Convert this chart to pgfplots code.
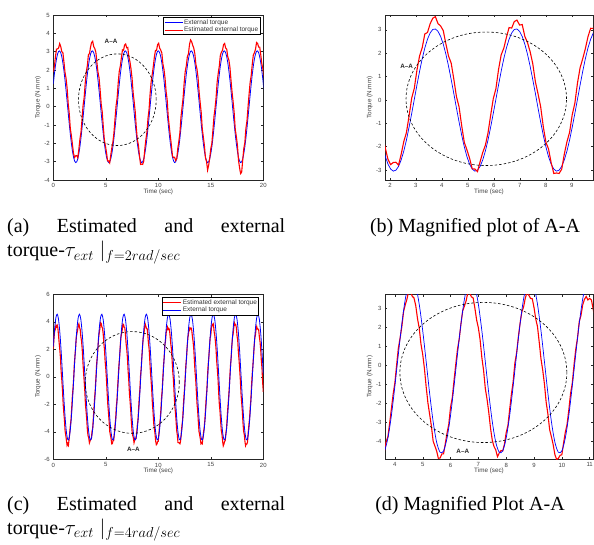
\documentclass[border=0pt]{standalone}
\usepackage{fontspec}
\setmainfont{Liberation Serif}
\newfontfamily\hv{Liberation Sans}
\usepackage{pgfplots}
\pgfplotsset{compat=1.18}
\usepackage{pgfplotstable}

\pgfplotstableread{
t b r
0.000 1.23 1.89
0.101 1.77 2.19
0.203 2.23 2.72
0.304 2.60 3.14
0.405 2.87 3.15
0.507 3.02 3.20
0.608 3.04 3.44
0.709 2.94 3.28
0.811 2.72 3.00
0.912 2.39 2.95
1.013 1.96 2.44
1.115 1.45 1.87
1.216 0.88 1.54
1.317 0.28 1.00
1.419 -0.34 0.17
1.520 -0.94 -0.38
1.621 -1.51 -1.20
1.723 -2.01 -1.59
1.824 -2.43 -2.07
1.925 -2.75 -2.55
2.027 -2.96 -2.77
2.128 -3.05 -2.68
2.230 -3.01 -2.67
2.331 -2.85 -2.79
2.432 -2.57 -2.33
2.534 -2.19 -1.78
2.635 -1.72 -1.40
2.736 -1.17 -0.69
2.838 -0.58 0.08
2.939 0.03 0.50
3.040 0.64 1.28
3.142 1.23 1.89
3.243 1.77 2.24
3.344 2.23 2.83
3.446 2.60 2.89
3.547 2.87 3.26
3.648 3.02 3.50
3.750 3.04 3.57
3.851 2.94 3.27
3.952 2.72 3.17
4.054 2.39 2.97
4.155 1.96 2.40
4.256 1.45 1.88
4.358 0.88 1.58
4.459 0.28 0.90
4.560 -0.34 0.15
4.662 -0.94 -0.30
4.763 -1.51 -1.10
4.864 -2.01 -1.82
4.966 -2.43 -2.14
5.067 -2.75 -2.50
5.168 -2.96 -2.95
5.270 -3.05 -2.96
5.371 -3.01 -3.07
5.472 -2.85 -2.65
5.574 -2.57 -2.25
5.675 -2.19 -1.94
5.776 -1.72 -1.42
5.878 -1.17 -0.66
5.979 -0.58 0.05
6.081 0.03 0.48
6.182 0.64 1.30
6.283 1.23 1.93
6.385 1.77 2.22
6.486 2.23 2.68
6.587 2.60 3.10
6.689 2.87 3.08
6.790 3.02 3.36
6.891 3.04 3.42
6.993 2.94 3.21
7.094 2.72 3.23
7.195 2.39 2.72
7.297 1.96 2.46
7.398 1.45 2.07
7.499 0.88 1.56
7.601 0.28 0.78
7.702 -0.34 0.27
7.803 -0.94 -0.28
7.905 -1.51 -1.14
8.006 -2.01 -1.81
8.107 -2.43 -2.10
8.209 -2.75 -2.69
8.310 -2.96 -3.15
8.411 -3.05 -3.13
8.513 -3.01 -3.15
8.614 -2.85 -2.97
8.715 -2.57 -2.32
8.817 -2.19 -1.79
8.918 -1.72 -1.39
9.019 -1.17 -0.64
9.121 -0.58 -0.14
9.222 0.03 0.72
9.323 0.64 1.38
9.425 1.23 1.77
9.526 1.77 2.20
9.627 2.23 2.71
9.729 2.60 3.07
9.830 2.87 3.06
9.932 3.02 3.38
10.033 3.04 3.46
10.134 2.94 3.19
10.236 2.72 3.08
10.337 2.39 2.93
10.438 1.96 2.33
10.540 1.45 2.04
10.641 0.88 1.56
10.742 0.28 0.83
10.844 -0.34 0.38
10.945 -0.94 -0.53
11.046 -1.51 -1.08
11.148 -2.01 -1.62
11.249 -2.43 -2.12
11.350 -2.75 -2.69
11.452 -2.96 -2.78
11.553 -3.05 -2.76
11.654 -3.01 -2.94
11.756 -2.85 -2.84
11.857 -2.57 -2.28
11.958 -2.19 -1.89
12.060 -1.72 -1.41
12.161 -1.17 -0.56
12.262 -0.58 -0.04
12.364 0.03 0.49
12.465 0.64 1.31
12.566 1.23 1.92
12.668 1.77 2.23
12.769 2.23 2.73
12.870 2.60 2.88
12.972 2.87 3.39
13.073 3.02 3.64
13.174 3.04 3.55
13.276 2.94 3.35
13.377 2.72 3.20
13.478 2.39 2.90
13.580 1.96 2.31
13.681 1.45 2.06
13.783 0.88 1.60
13.884 0.28 0.81
13.985 -0.34 0.23
14.087 -0.94 -0.32
14.188 -1.51 -1.21
14.289 -2.01 -1.65
14.391 -2.43 -2.12
14.492 -2.75 -2.79
14.593 -2.96 -2.99
14.695 -3.05 -3.46
14.796 -3.01 -3.20
14.897 -2.85 -2.80
14.999 -2.57 -2.30
15.100 -2.19 -2.01
15.201 -1.72 -1.29
15.303 -1.17 -0.54
15.404 -0.58 -0.08
15.505 0.03 0.50
15.607 0.64 1.35
15.708 1.23 1.82
15.809 1.77 2.21
15.911 2.23 2.81
16.012 2.60 2.98
16.113 2.87 3.07
16.215 3.02 3.39
16.316 3.04 3.45
16.417 2.94 3.20
16.519 2.72 3.13
16.620 2.39 2.71
16.721 1.96 2.55
16.823 1.45 2.14
16.924 0.88 1.44
17.025 0.28 0.79
17.127 -0.34 0.26
17.228 -0.94 -0.35
17.329 -1.51 -1.23
17.431 -2.01 -1.63
17.532 -2.43 -2.08
17.634 -2.75 -2.90
17.735 -2.96 -3.31
17.836 -3.05 -3.65
17.938 -3.01 -3.58
18.039 -2.85 -2.92
18.140 -2.57 -2.30
18.242 -2.19 -1.96
18.343 -1.72 -1.18
18.444 -1.17 -0.79
18.546 -0.58 -0.02
18.647 0.03 0.69
18.748 0.64 1.33
18.850 1.23 1.70
18.951 1.77 2.33
19.052 2.23 2.83
19.154 2.60 2.94
19.255 2.87 3.12
19.356 3.02 3.50
19.458 3.04 3.45
19.559 2.94 3.25
19.660 2.72 3.25
19.762 2.39 2.81
19.863 1.96 2.32
19.964 1.45 2.07
20.066 0.88 1.59
}\dataA

\pgfplotstableread{
t b
0.000 2.19
0.125 3.49
0.250 4.31
0.375 4.55
0.500 4.16
0.625 3.21
0.750 1.83
0.875 0.19
1.000 -1.48
1.125 -2.95
1.250 -4.03
1.375 -4.56
1.500 -4.49
1.625 -3.81
1.750 -2.63
1.875 -1.09
2.000 0.59
2.125 2.19
2.250 3.49
2.375 4.31
2.500 4.55
2.625 4.16
2.750 3.21
2.875 1.83
3.000 0.19
3.125 -1.48
3.250 -2.95
3.375 -4.03
3.500 -4.56
3.625 -4.49
3.750 -3.81
3.875 -2.63
4.000 -1.09
4.125 0.59
4.250 2.19
4.375 3.49
4.500 4.31
4.625 4.55
4.750 4.16
4.875 3.21
5.000 1.83
5.125 0.19
5.250 -1.48
5.375 -2.95
5.500 -4.03
5.625 -4.56
5.750 -4.49
5.875 -3.81
6.000 -2.63
6.125 -1.09
6.250 0.59
6.375 2.19
6.500 3.49
6.625 4.31
6.750 4.55
6.875 4.16
7.000 3.21
7.125 1.83
7.250 0.19
7.375 -1.48
7.500 -2.95
7.625 -4.03
7.750 -4.56
7.875 -4.49
8.000 -3.81
8.125 -2.63
8.250 -1.09
8.375 0.59
8.500 2.19
8.625 3.49
8.750 4.31
8.875 4.55
9.000 4.16
9.125 3.21
9.250 1.83
9.375 0.19
9.500 -1.48
9.625 -2.95
9.750 -4.03
9.875 -4.56
10.000 -4.49
10.125 -3.81
10.250 -2.63
10.375 -1.09
10.500 0.59
10.625 2.19
10.750 3.49
10.875 4.31
11.000 4.55
11.125 4.16
11.250 3.21
11.375 1.83
11.500 0.19
11.625 -1.48
11.750 -2.95
11.875 -4.03
12.000 -4.56
12.125 -4.49
12.250 -3.81
12.375 -2.63
12.500 -1.09
12.625 0.59
12.750 2.19
12.875 3.49
13.000 4.31
13.125 4.55
13.250 4.16
13.375 3.21
13.500 1.83
13.625 0.19
13.750 -1.48
13.875 -2.95
14.000 -4.03
14.125 -4.56
14.250 -4.49
14.375 -3.81
14.500 -2.63
14.625 -1.09
14.750 0.59
14.875 2.19
15.000 3.49
15.125 4.31
15.250 4.55
15.375 4.16
15.500 3.21
15.625 1.83
15.750 0.19
15.875 -1.48
16.000 -2.95
16.125 -4.03
16.250 -4.56
16.375 -4.49
16.500 -3.81
16.625 -2.63
16.750 -1.09
16.875 0.59
17.000 2.19
17.125 3.49
17.250 4.31
17.375 4.55
17.500 4.16
17.625 3.21
17.750 1.83
17.875 0.19
18.000 -1.48
18.125 -2.95
18.250 -4.03
18.375 -4.56
18.500 -4.49
18.625 -3.81
18.750 -2.63
18.875 -1.09
19.000 0.59
19.125 2.19
19.250 3.49
19.375 4.31
19.500 4.55
19.625 4.16
19.750 3.21
19.875 1.83
20.000 0.19
}\dataCb

\pgfplotstableread{
t r
0.0000 2.02
0.0625 2.79
0.1250 3.29
0.1875 3.44
0.2500 3.74
0.3125 3.63
0.3750 3.74
0.4375 3.53
0.5000 2.99
0.5625 2.43
0.6250 1.94
0.6875 1.31
0.7500 0.34
0.8125 -0.25
0.8750 -0.97
0.9375 -1.95
1.0000 -2.61
1.0625 -3.16
1.1250 -3.96
1.1875 -4.25
1.2500 -4.61
1.3125 -4.98
1.3750 -4.86
1.4375 -4.98
1.5000 -4.59
1.5625 -4.07
1.6250 -3.55
1.6875 -3.13
1.7500 -2.31
1.8125 -1.45
1.8750 -0.86
1.9375 -0.14
2.0000 0.87
2.0625 1.51
2.1250 2.07
2.1875 2.85
2.2500 3.16
2.3125 3.37
2.3750 3.76
2.4375 3.86
2.5000 3.58
2.5625 3.44
2.6250 2.91
2.6875 2.62
2.7500 2.05
2.8125 1.20
2.8750 0.39
2.9375 -0.28
3.0000 -1.02
3.0625 -2.02
3.1250 -2.55
3.1875 -3.14
3.2500 -3.91
3.3125 -4.29
3.3750 -4.44
3.4375 -4.81
3.5000 -4.67
3.5625 -4.55
3.6250 -4.50
3.6875 -3.99
3.7500 -3.74
3.8125 -3.02
3.8750 -2.28
3.9375 -1.51
4.0000 -0.91
4.0625 0.02
4.1250 0.91
4.1875 1.44
4.2500 2.03
4.3125 2.83
4.3750 3.19
4.4375 3.50
4.5000 3.94
4.5625 3.88
4.6250 3.63
4.6875 3.54
4.7500 3.14
4.8125 2.46
4.8750 1.96
4.9375 1.12
5.0000 0.58
5.0625 -0.17
5.1250 -1.13
5.1875 -1.97
5.2500 -2.58
5.3125 -3.19
5.3750 -3.98
5.4375 -4.23
5.5000 -4.49
5.5625 -4.88
5.6250 -4.86
5.6875 -4.65
5.7500 -4.64
5.8125 -4.10
5.8750 -3.55
5.9375 -3.08
6.0000 -2.20
6.0625 -1.70
6.1250 -0.80
6.1875 0.05
6.2500 0.85
6.3125 1.39
6.3750 2.19
6.4375 2.87
6.5000 3.12
6.5625 3.41
6.6250 3.84
6.6875 3.81
6.7500 3.60
6.8125 3.55
6.8750 3.01
6.9375 2.39
7.0000 1.98
7.0625 1.35
7.1250 0.42
7.1875 -0.26
7.2500 -1.21
7.3125 -1.78
7.3750 -2.47
7.4375 -3.30
7.5000 -3.93
7.5625 -4.26
7.6250 -4.44
7.6875 -4.79
7.7500 -4.60
7.8125 -4.47
7.8750 -4.49
7.9375 -4.14
8.0000 -3.53
8.0625 -3.15
8.1250 -2.31
8.1875 -1.51
8.2500 -0.86
8.3125 0.13
8.3750 0.66
8.4375 1.50
8.5000 2.22
8.5625 2.81
8.6250 3.07
8.6875 3.54
8.7500 3.84
8.8125 3.69
8.8750 3.52
8.9375 3.50
9.0000 3.04
9.0625 2.44
9.1250 2.04
9.1875 1.22
9.2500 0.35
9.3125 -0.24
9.3750 -0.98
9.4375 -1.94
9.5000 -2.56
9.5625 -3.38
9.6250 -3.74
9.6875 -4.15
9.7500 -4.68
9.8125 -4.94
9.8750 -4.88
9.9375 -4.72
10.0000 -4.69
10.0625 -4.08
10.1250 -3.51
10.1875 -3.10
10.2500 -2.35
10.3125 -1.49
10.3750 -0.93
10.4375 0.02
10.5000 0.85
10.5625 1.44
10.6250 2.30
10.6875 2.62
10.7500 3.18
10.8125 3.47
10.8750 3.62
10.9375 3.44
11.0000 3.52
11.0625 3.44
11.1250 2.97
11.1875 2.40
11.2500 2.02
11.3125 1.25
11.3750 0.40
11.4375 -0.18
11.5000 -1.11
11.5625 -2.01
11.6250 -2.54
11.6875 -3.15
11.7500 -3.90
11.8125 -4.24
11.8750 -4.78
11.9375 -4.79
12.0000 -4.82
12.0625 -4.87
12.1250 -4.66
12.1875 -4.11
12.2500 -3.56
12.3125 -3.17
12.3750 -2.29
12.4375 -1.47
12.5000 -0.88
12.5625 -0.02
12.6250 0.87
12.6875 1.37
12.7500 2.19
12.8125 2.81
12.8750 3.12
12.9375 3.55
13.0000 3.43
13.0625 3.55
13.1250 3.55
13.1875 3.38
13.2500 2.92
13.3125 2.56
13.3750 2.06
13.4375 1.18
13.5000 0.36
13.5625 -0.20
13.6250 -1.08
13.6875 -1.96
13.7500 -2.48
13.8125 -3.28
13.8750 -3.97
13.9375 -4.22
14.0000 -4.50
14.0625 -4.87
14.1250 -4.81
14.1875 -4.87
14.2500 -4.42
14.3125 -4.00
14.3750 -3.67
14.4375 -3.12
14.5000 -2.32
14.5625 -1.52
14.6250 -0.95
14.6875 0.04
14.7500 0.89
14.8125 1.42
14.8750 2.15
14.9375 2.83
15.0000 3.05
15.0625 3.57
15.1250 3.82
15.1875 3.74
15.2500 3.83
15.3125 3.32
15.3750 3.03
15.4375 2.59
15.5000 2.00
15.5625 1.13
15.6250 0.52
15.6875 -0.16
15.7500 -1.15
15.8125 -2.00
15.8750 -2.50
15.9375 -3.25
16.0000 -3.92
16.0625 -4.16
16.1250 -4.68
16.1875 -5.02
16.2500 -4.89
16.3125 -4.72
16.3750 -4.63
16.4375 -4.09
16.5000 -3.75
16.5625 -2.93
16.6250 -2.21
16.6875 -1.63
16.7500 -0.90
16.8125 0.01
16.8750 0.84
16.9375 1.35
17.0000 2.21
17.0625 2.85
17.1250 3.10
17.1875 3.58
17.2500 3.92
17.3125 3.77
17.3750 3.80
17.4375 3.56
17.5000 2.97
17.5625 2.67
17.6250 1.81
17.6875 1.24
17.7500 0.55
17.8125 -0.22
17.8750 -1.20
17.9375 -1.84
18.0000 -2.46
18.0625 -3.32
18.1250 -3.96
18.1875 -4.18
18.2500 -4.68
18.3125 -5.01
18.3750 -4.88
18.4375 -4.89
18.5000 -4.73
18.5625 -4.07
18.6250 -3.52
18.6875 -3.09
18.7500 -2.30
18.8125 -1.71
18.8750 -0.71
18.9375 0.12
19.0000 0.73
19.0625 1.40
19.1250 2.18
19.1875 2.80
19.2500 3.03
19.3125 3.46
19.3750 3.66
19.4375 3.47
19.5000 3.48
19.5625 3.40
19.6250 2.90
19.6875 2.56
19.7500 2.00
19.8125 1.18
19.8750 0.63
19.9375 -0.41
20.0000 -1.09
}\dataCr

\tikzset{
  ell/.style={black, line width=0.6pt, dash pattern=on 2.5pt off 2pt},
  aa/.style={font=\hv\bfseries\fontsize{6.3}{7}\selectfont, text=black!85},
  capt/.style={inner sep=0pt, font=\fontsize{20}{24}\selectfont},
}
\newcommand{\twoline}[2]{\parbox[t]{290pt}{\fontsize{20}{24}\selectfont\lineskiplimit=-20pt\relax
  \makebox[278pt][s]{#1}\\#2}}
\pgfplotsset{
  mat/.style={
    scale only axis,
    axis line style={black!85, line width=0.75pt},
    tick style={black!85, line width=0.4pt},
    tick align=inside,
    major tick length=2.2pt,
    ticklabel style={font=\hv\fontsize{6}{6.5}\selectfont, text=black!75},
    label style={font=\hv\fontsize{6.3}{6.8}\selectfont, text=black!75},
    /pgf/number format/assume math mode=true,
    xlabel={Time (sec)},
    ylabel={Torque (N.mm)},
    xlabel style={at={(axis description cs:0.5,-0.072)}, anchor=center},
    ylabel style={at={(axis description cs:-0.073,0.5)}, anchor=center},
    legend cell align=left,
    legend image code/.code={\draw[#1, line width=0.7pt] (0pt,0pt) -- (18pt,0pt);},
    legend style={at={(0.987,0.988)}, anchor=north east, draw=black, line width=0.9pt,
      fill=white, font=\hv\fontsize{6.5}{7}\selectfont, inner sep=0.8pt,
      row sep=-1pt, nodes={inner sep=1.1pt, text=black!80}},
  },
}

\begin{document}
\begin{tikzpicture}
\path[use as bounding box] (0pt,0pt) rectangle (594pt,544pt);

% (a)
\begin{axis}[mat, at={(53.3pt,364pt)}, width=210pt, height=165pt,
  xmin=0, xmax=20, ymin=-4, ymax=5, xtick={0,5,10,15,20}, ytick={-4,-3,...,5}]
\addplot[blue, line width=0.8pt] table[x=t,y=b]{\dataA};
\addlegendentry{External torque}
\addplot[red, line width=1.1pt] table[x=t,y=r]{\dataA};
\addlegendentry{Estimated external torque}
\draw[ell] (axis cs:6.1,0.38) ellipse [x radius=3.7, y radius=2.5];
\node[aa] at (axis cs:5.5,3.55) {A\textendash A};
\end{axis}

% (b)
\begin{axis}[mat, at={(385pt,364pt)}, width=208pt, height=165pt,
  xmin=1.81, xmax=9.82, ymin=-3.43, ymax=3.64, xtick={2,3,...,9}, ytick={-3,-2,...,3}]
\addplot[blue, line width=0.7pt] table[x=t,y=b]{\dataA};
\addplot[red, line width=1.1pt] table[x=t,y=r]{\dataA};
\draw[ell] (axis cs:5.71,0.05) ellipse [x radius=3.09, y radius=2.86];
\node[aa] at (axis cs:2.64,1.43) {A\textendash A};
\end{axis}

% (c)
\begin{axis}[mat, at={(53.3pt,84.7pt)}, width=210pt, height=165pt,
  xmin=0, xmax=20, ymin=-6, ymax=6, xtick={0,5,10,15,20}, ytick={-6,-4,...,6},
  legend style={at={(0.981,0.982)}}]
\addplot[red, line width=1.1pt] table[x=t,y=r]{\dataCr};
\addlegendentry{Estimated external torque}
\addplot[blue, line width=0.8pt, smooth] table[x=t,y=b]{\dataCb};
\addlegendentry{External torque}
\draw[ell] (axis cs:7.52,-0.41) ellipse [x radius=4.48, y radius=3.7];
\node[aa] at (axis cs:7.62,-5.25) {A\textendash A};
\end{axis}

% (d)
\begin{axis}[mat, at={(385pt,84.7pt)}, width=208pt, height=165pt,
  xmin=3.645, xmax=11.12, ymin=-4.93, ymax=3.735, xtick={4,5,...,11}, ytick={-4,-3,...,3}]
\addplot[red, line width=1.1pt] table[x=t,y=r]{\dataCr};
\addplot[blue, line width=0.7pt, smooth] table[x=t,y=b]{\dataCb};
\draw[ell] (axis cs:7.18,-0.37) ellipse [x radius=3.0, y radius=3.68];
\node[aa] at (axis cs:6.44,-4.53) {A\textendash A};
\end{axis}

% captions
\node[inner sep=0pt, anchor=base west] at (7pt,311pt)
  {\twoline{(a) Estimated and external}{torque-$\tau_{ext}\;|_{f=2rad/sec}$}};
\node[capt, anchor=base] at (475pt,311pt)
  {(b) Magnified plot of A-A};
\node[inner sep=0pt, anchor=base west] at (7pt,34pt)
  {\twoline{(c) Estimated and external}{torque-$\tau_{ext}\;|_{f=4rad/sec}$}};
\node[capt, anchor=base] at (470pt,34pt)
  {(d) Magnified Plot A-A};
\end{tikzpicture}
\end{document}
